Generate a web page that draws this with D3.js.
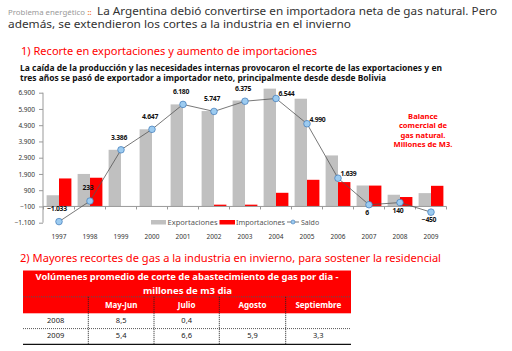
<!DOCTYPE html>
<html lang="es">
<head>
<meta charset="utf-8">
<script src="https://d3js.org/d3.v7.min.js"></script>
<style>
  body { margin: 0; background: #fff; }
  svg text { font-family: "Noto Sans", "DejaVu Sans", sans-serif; }
</style>
</head>
<body>
<script>
// datos del grafico (millones de m3)
var years = ["1997","1998","1999","2000","2001","2002","2003","2004","2005","2006","2007","2008","2009"];
var exportaciones = [590, 1900, 3386, 4647, 6180, 5770, 6420, 7150, 6530, 3040, 1190, 620, 720];
var importaciones = [1623, 1667, null, null, null, 10, 10, 740, 1540, 1400, 1184, 480, 1170];
var saldo = [-1033, 233, 3386, 4647, 6180, 5747, 6375, 6544, 4990, 1639, 6, 140, -450];
var yTicks = [-1100, -100, 900, 1900, 2900, 3900, 4900, 5900, 6900];

// tabla
var meses = ["May-Jun", "Julio", "Agosto", "Septiembre"];
var filas = ["2008", "2009"];
var cortes2008 = ["8,5", "0,4", "", ""];
var cortes2009 = ["5,4", "6,6", "5,9", "3,3"];

var width = 512, height = 351;
var red = "#ff0000";

var svg = d3.select("body").append("svg")
  .attr("width", width)
  .attr("height", height);

// --- encabezado ---
svg.append("text").attr("x", 8).attr("y", 14.5)
  .attr("font-size", 7).attr("fill", "#999")
  .attr("textLength", 77).attr("lengthAdjust", "spacingAndGlyphs")
  .text("Problema energético");
svg.append("text").attr("x", 87.5).attr("y", 14.5)
  .attr("font-size", 7).attr("font-weight", "bold").attr("fill", "#f26b1d").text("::");

svg.append("text").attr("x", 97).attr("y", 14.5)
  .attr("font-size", 11).attr("fill", "#333")
  .attr("textLength", 400).attr("lengthAdjust", "spacingAndGlyphs")
  .text("La Argentina debió convertirse en importadora neta de gas natural. Pero");
svg.append("text").attr("x", 8).attr("y", 27.5)
  .attr("font-size", 11).attr("fill", "#333")
  .attr("textLength", 343).attr("lengthAdjust", "spacingAndGlyphs")
  .text("además, se extendieron los cortes a la industria en el invierno");

svg.append("text").attr("x", 21).attr("y", 54.5)
  .attr("font-size", 11).attr("fill", red)
  .attr("textLength", 296).attr("lengthAdjust", "spacingAndGlyphs")
  .text("1) Recorte en exportaciones y aumento de importaciones");

svg.append("text").attr("x", 20).attr("y", 71)
  .attr("font-size", 8).attr("font-weight", "bold").attr("fill", "#111")
  .attr("textLength", 422).attr("lengthAdjust", "spacingAndGlyphs")
  .text("La caída de la producción y las necesidades internas provocaron el recorte de las exportaciones y en");
svg.append("text").attr("x", 20).attr("y", 81)
  .attr("font-size", 8).attr("font-weight", "bold").attr("fill", "#111")
  .attr("textLength", 366).attr("lengthAdjust", "spacingAndGlyphs")
  .text("tres años se pasó de exportador a importador neto, principalmente desde desde Bolivia");

// --- grafico ---
var x = d3.scaleBand().domain(years).range([43.5, 446.5]).paddingInner(0.2).paddingOuter(0.1);
var y = d3.scaleLinear().domain([-1100, 6900]).range([222.7, 92.7]);
var fmt = d3.formatLocale({ decimal: ",", thousands: ".", grouping: [3], currency: ["", ""] }).format(",d");
var step = x.step();
var bw = x.bandwidth() / 2;
var base = y(-100);
var cx = function (yr) { return x(yr) + x.bandwidth() / 2; };

// eje y
var yAxis = svg.append("g").attr("transform", "translate(43,0)")
  .call(d3.axisLeft(y).tickValues(yTicks).tickSize(4).tickFormat(fmt));
yAxis.select(".domain").attr("stroke", "#999").attr("d", "M0," + y(6900) + "V" + y(-1100));
yAxis.selectAll(".tick line").attr("stroke", "#999");
yAxis.selectAll(".tick text").attr("font-size", 6.5).attr("fill", "#333")
  .attr("font-family", "'DejaVu Sans', sans-serif").attr("x", -8);

// barras
var expData = years.map(function (yr, i) { return { year: yr, v: exportaciones[i] }; });
var impData = years.map(function (yr, i) { return { year: yr, v: importaciones[i] }; })
  .filter(function (d) { return d.v != null; });

svg.append("g").selectAll("rect").data(expData).join("rect")
  .attr("x", function (d) { return cx(d.year) - bw; })
  .attr("y", function (d) { return y(d.v); })
  .attr("width", bw)
  .attr("height", function (d) { return base - y(d.v); })
  .attr("fill", "#c0c0c0");
svg.append("g").selectAll("rect").data(impData).join("rect")
  .attr("x", function (d) { return cx(d.year); })
  .attr("y", function (d) { return y(d.v); })
  .attr("width", bw)
  .attr("height", function (d) { return base - y(d.v); })
  .attr("fill", red);

// eje x en -100
var xAxis = svg.append("g").attr("transform", "translate(0," + base + ")");
xAxis.append("line").attr("x1", 43).attr("x2", 446.5).attr("stroke", "#999");
xAxis.selectAll("line.t").data(d3.range(years.length + 1)).join("line")
  .attr("class", "t")
  .attr("x1", function (d) { return 43.5 + d * step; })
  .attr("x2", function (d) { return 43.5 + d * step; })
  .attr("y1", 0).attr("y2", 3).attr("stroke", "#999");

svg.append("g").selectAll("text").data(years).join("text")
  .attr("x", function (d) { return cx(d); })
  .attr("y", 238.5)
  .attr("text-anchor", "middle")
  .attr("font-size", 6.5).attr("fill", "#333")
  .attr("font-family", "'DejaVu Sans', sans-serif")
  .text(function (d) { return d; });

// linea de saldo
var line = d3.line().x(function (d, i) { return cx(years[i]); }).y(function (d) { return y(d); });
svg.append("path").datum(saldo).attr("d", line)
  .attr("fill", "none").attr("stroke", "#555").attr("stroke-width", 0.8);
svg.append("g").selectAll("circle").data(saldo).join("circle")
  .attr("cx", function (d, i) { return cx(years[i]); })
  .attr("cy", function (d) { return y(d); })
  .attr("r", 3.3)
  .attr("fill", "#9ccbf0").attr("stroke", "#3d79b8").attr("stroke-width", 0.7);

// etiquetas de saldo: arriba, derecha o abajo segun el punto
var pos = ["up","up","up","up","up","up","up","right","right","right","down","down","down"];
svg.append("g").selectAll("text").data(saldo).join("text")
  .attr("x", function (d, i) {
    return pos[i] == "right" ? cx(years[i]) + 2.5 : cx(years[i]) - 2;
  })
  .attr("y", function (d, i) {
    if (pos[i] == "up") return y(d) - (i < 2 ? 11 : 10);
    if (pos[i] == "right") return y(d) - 2;
    return y(d) + 10;
  })
  .attr("text-anchor", function (d, i) { return pos[i] == "right" ? "start" : "middle"; })
  .attr("font-size", 6.8).attr("font-weight", "bold").attr("fill", "#111")
  .attr("letter-spacing", -0.3)
  .attr("font-family", "'DejaVu Sans', sans-serif")
  .text(function (d) { return fmt(d); });

// leyenda
var lg = svg.append("g").attr("font-size", 7).attr("fill", "#555");
lg.append("rect").attr("x", 151).attr("y", 220).attr("width", 15).attr("height", 4.5).attr("fill", "#c0c0c0");
lg.append("text").attr("x", 167.5).attr("y", 224.5).attr("fill", "#555").text("Exportaciones")
  .attr("textLength", 50).attr("lengthAdjust", "spacingAndGlyphs");
lg.append("rect").attr("x", 219.5).attr("y", 220).attr("width", 15.5).attr("height", 4.5).attr("fill", red);
lg.append("text").attr("x", 236).attr("y", 224.5).attr("fill", "#555").text("Importaciones")
  .attr("textLength", 49).attr("lengthAdjust", "spacingAndGlyphs");
lg.append("line").attr("x1", 287).attr("x2", 299).attr("y1", 222).attr("y2", 222).attr("stroke", "#555").attr("stroke-width", 0.8);
lg.append("circle").attr("cx", 293).attr("cy", 222).attr("r", 2).attr("fill", "#9ccbf0").attr("stroke", "#3d79b8").attr("stroke-width", 0.6);
lg.append("text").attr("x", 301).attr("y", 224.5).attr("fill", "#555").text("Saldo");

// nota roja
var nota = ["Balance", "comercial de", "gas natural.", "Millones de M3."];
svg.append("g").selectAll("text").data(nota).join("text")
  .attr("x", 423).attr("y", function (d, i) { return 118.5 + i * 9.6; })
  .attr("text-anchor", "middle")
  .attr("font-size", 7.6).attr("font-weight", "bold").attr("fill", red)
  .text(function (d) { return d; });

// --- seccion 2 ---
svg.append("text").attr("x", 20).attr("y", 262)
  .attr("font-size", 11).attr("fill", red)
  .attr("textLength", 421).attr("lengthAdjust", "spacingAndGlyphs")
  .text("2) Mayores recortes de gas a la industria en invierno, para sostener la residencial");

var colX = [23, 88.3, 154, 219.3, 285.7, 351];
var tTop = 270.5, h1 = 296.8, h2 = 313.3, r1 = 328.6, r2 = 344.3;
var tbl = svg.append("g");
tbl.append("rect").attr("x", colX[0]).attr("y", tTop).attr("width", colX[5] - colX[0]).attr("height", h2 - tTop).attr("fill", "#ff0000");

tbl.append("text").attr("x", 187).attr("y", 279.5).attr("text-anchor", "middle")
  .attr("font-size", 8).attr("font-weight", "bold").attr("fill", "#fff")
  .attr("textLength", 303).attr("lengthAdjust", "spacingAndGlyphs")
  .text("Volúmenes promedio de corte de abastecimiento de gas por dia -");
tbl.append("text").attr("x", 187.5).attr("y", 293.5).attr("text-anchor", "middle")
  .attr("font-size", 8).attr("font-weight", "bold").attr("fill", "#fff")
  .attr("textLength", 89).attr("lengthAdjust", "spacingAndGlyphs")
  .text("millones de m3 dia");

// lineas punteadas
var dots = "1,1";
tbl.append("line").attr("x1", colX[0]).attr("x2", colX[5]).attr("y1", h1).attr("y2", h1)
  .attr("stroke", "#555").attr("stroke-dasharray", dots);
tbl.append("line").attr("x1", colX[0]).attr("x2", colX[5]).attr("y1", r1).attr("y2", r1)
  .attr("stroke", "#555").attr("stroke-dasharray", dots);
tbl.selectAll("line.v").data(colX.slice(1, 5)).join("line")
  .attr("class", "v")
  .attr("x1", function (d) { return d; }).attr("x2", function (d) { return d; })
  .attr("y1", h1).attr("y2", r2)
  .attr("stroke", "#222").attr("stroke-dasharray", dots);
tbl.append("line").attr("x1", colX[0]).attr("x2", colX[5]).attr("y1", r2).attr("y2", r2)
  .attr("stroke", "#111").attr("stroke-width", 1.2);

var mid = function (j) { return (colX[j] + colX[j + 1]) / 2; };
tbl.selectAll("text.m").data(meses).join("text")
  .attr("class", "m")
  .attr("x", function (d, i) { return mid(i + 1); }).attr("y", 307.8)
  .attr("text-anchor", "middle")
  .attr("font-size", 8).attr("font-weight", "bold").attr("fill", "#fff")
  .text(function (d) { return d; });

[cortes2008, cortes2009].forEach(function (row, r) {
  var yy = r == 0 ? 323 : 338;
  tbl.append("text").attr("x", mid(0)).attr("y", yy).attr("text-anchor", "middle")
    .attr("font-size", 7.5).attr("fill", "#222").text(filas[r]);
  tbl.selectAll("text.c" + r).data(row).join("text")
    .attr("class", "c" + r)
    .attr("x", function (d, i) { return mid(i + 1); }).attr("y", yy)
    .attr("text-anchor", "middle")
    .attr("font-size", 7.5).attr("fill", "#222")
    .text(function (d) { return d; });
});
</script>
</body>
</html>
